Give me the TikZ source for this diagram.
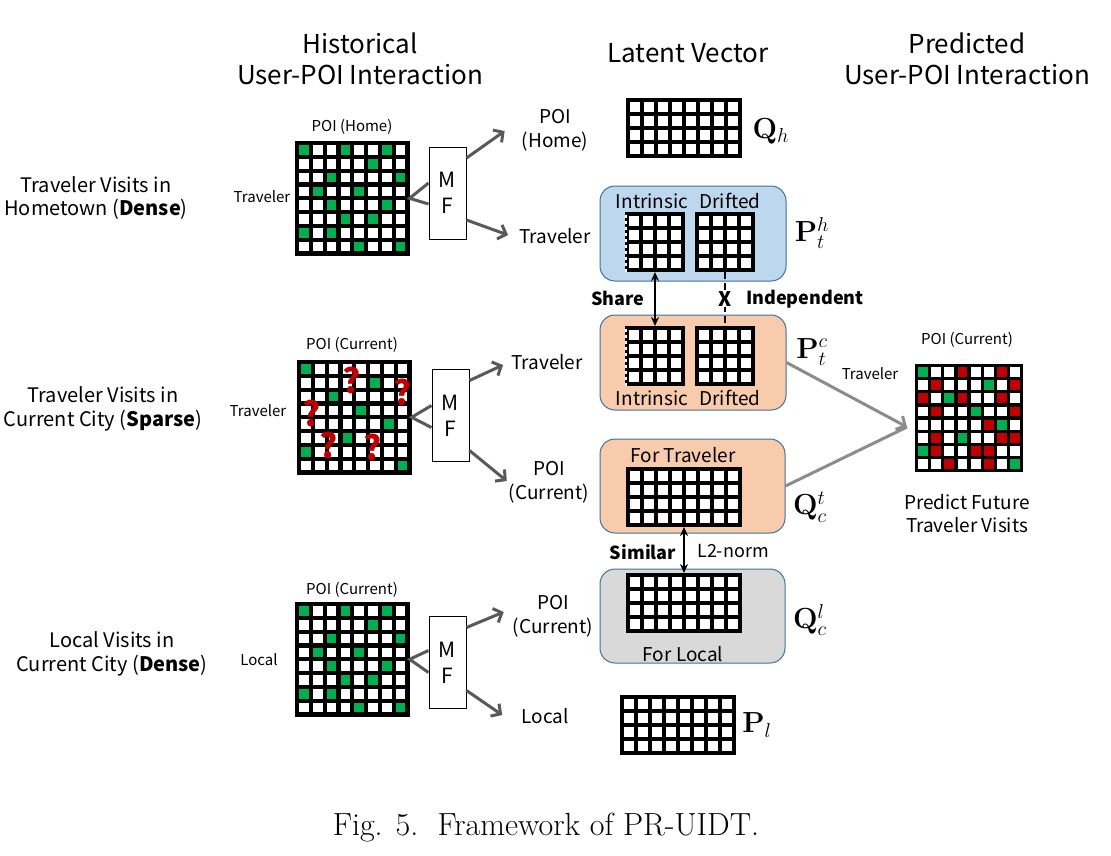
\documentclass[tikz,border=0pt]{standalone}
\usepackage[no-math]{fontspec}
\setmainfont{Noto Sans CJK KR}
\newfontfamily\capfont{Latin Modern Roman}
\usetikzlibrary{arrows.meta,calc}
\definecolor{mgreen}{HTML}{00B050}
\definecolor{mred}{HTML}{C00000}
\definecolor{bluefill}{HTML}{BDD7EE}
\definecolor{orfill}{HTML}{F8CBAD}
\definecolor{grfill}{HTML}{D9D9D9}
\definecolor{boxline}{HTML}{41719C}
\definecolor{arrgray}{HTML}{595959}
\definecolor{predgray}{HTML}{8C8C8C}
\newcommand{\gridmat}[6]{%
  \node[fill=black,inner sep=0,outer sep=0,draw=none,anchor=north west,minimum width={#3*#5+#6},minimum height={#4*#5+#6}] (#1) at #2 {};
  \foreach \ii in {1,...,#3}{\foreach \jj in {1,...,#4}{%
    \fill[white] ($(#1.north west)+({#6+(\ii-1)*#5},{#6+(\jj-1)*#5})$) rectangle ++({#5-#6},{#5-#6});}}%
}
\newcommand{\cellfill}[5]{%
  \foreach \cc/\rr in {#5}{\fill[#2] ($(#1.north west)+({#4+(\cc-1)*#3},{#4+(\rr-1)*#3})$) rectangle ++({#3-#4},{#3-#4});}%
}
\tikzset{
  hdr/.style={font=\fontsize{26}{31}\selectfont,align=center,inner sep=0},
  side/.style={font=\fontsize{20}{23.5}\selectfont,align=center,inner sep=0},
  small/.style={font=\fontsize{15}{18}\selectfont,inner sep=0},
  mid/.style={font=\fontsize{19}{24}\selectfont,align=center,inner sep=0},
  mfbox/.style={draw=black,line width=1,fill=white,minimum width=37,minimum height=92,inner sep=0,align=center,font=\fontsize{21}{26}\selectfont},
  fork/.style={draw=arrgray,line width=3},
  mfarrow/.style={draw=arrgray,line width=3,-{Straight Barb[length=7,width=15]}},
  predarrow/.style={draw=predgray,line width=3},
  rbox/.style={draw=boxline,line width=1,rounded corners=15,minimum width=186,minimum height=95,inner sep=0},
  mathlab/.style={font=\fontsize{20.74}{22}\selectfont,inner sep=0,scale=1.4,transform shape},
  qmark/.style={text=mred,font=\bfseries\fontsize{34}{36}\selectfont,inner sep=0},
  boldlab/.style={font=\bfseries\fontsize{18}{20}\selectfont,inner sep=0},
  dbl/.style={draw=black,line width=2,{Stealth[length=9,width=8]}-{Stealth[length=9,width=8]}}
}
\begin{document}
\begin{tikzpicture}[x=1pt,y=-1pt]
\useasboundingbox[fill=white] (0,0) rectangle (1111,855);
% headers
\node[hdr] (h1) at (360,59) {Historical\\User-POI Interaction};
\node[hdr] (h2) at (688,53) {Latent Vector};
\node[hdr] (h3) at (967,59) {Predicted\\User-POI Interaction};
% left labels
\node[side] (s1) at (96,198) {Traveler Visits in\\Hometown (\textbf{Dense})};
\node[side] (s2) at (103,409) {Traveler Visits in\\Current City (\textbf{Sparse})};
\node[side] (s3) at (112,654) {Local Visits in\\Current City (\textbf{Dense})};
% matrices left
\gridmat{m1}{(295,141)}{8}{8}{13.8}{4.2}
\cellfill{m1}{mgreen}{13.8}{4.2}{1/1,4/1,7/1,6/2,3/3,8/3,2/4,5/4,3/5,7/5,4/6,6/6,1/7,3/7,5/8,8/8}
\gridmat{m2}{(297,360)}{8}{8}{13.8}{4.2}
\cellfill{m2}{mgreen}{13.8}{4.2}{1/1,6/2,3/3,5/4,7/5,4/6,1/7,8/8}
\gridmat{m3}{(295,602)}{8}{8}{13.8}{4.2}
\cellfill{m3}{mgreen}{13.8}{4.2}{1/1,4/1,7/1,6/2,3/3,8/3,2/4,5/4,3/5,7/5,4/6,6/6,1/7,3/7,5/8,8/8}
\node[small] (t1) at (352,127) {POI (Home)};
\node[small] (t2) at (352,345) {POI (Current)};
\node[small] (t3) at (352,590) {POI (Current)};
\node[small] (r1) at (262,197) {Traveler};
\node[small] (r2) at (258,411) {Traveler};
\node[small] (r3) at (259,660) {Local};
% question marks
\node[qmark] (q1) at (352,380) {?};
\node[qmark] (q2) at (403,392) {?};
\node[qmark] (q3) at (312,413) {?};
\node[qmark] (q4) at (329,445) {?};
\node[qmark] (q5) at (373,447) {?};
% MF boxes
\node[mfbox] (MF1) at (447.5,193) {M\\F};
\node[mfbox] (MF2) at (450.5,415.5) {M\\F};
\node[mfbox] (MF3) at (447.5,662.5) {M\\F};
\draw[fork] ($(MF1.west)+(0,-10)$) -- (m1.east) -- ($(MF1.west)+(0,11)$);
\draw[fork] ($(MF2.west)+(0,-10)$) -- (m2.east) -- ($(MF2.west)+(0,12)$);
\draw[fork] ($(MF3.west)+(0,-12)$) -- (m3.east) -- ($(MF3.west)+(0,10)$);
% latent labels
\node[mid] (lPh) at (555,130) {POI\\(Home)};
\node[mid] (lTh) at (555,236) {Traveler};
\node[mid] (lTc) at (547,362) {Traveler};
\node[mid] (lPc) at (549,482) {POI\\(Current)};
\node[mid] (lPl) at (553,616) {POI\\(Current)};
\node[mid] (lLl) at (545,716) {Local};
\draw[mfarrow] ($(MF1.east)+(0,-35)$) -- ($(lPh.west)+(-17,1)$);
\draw[mfarrow] ($(MF1.east)+(0,27)$) -- ($(lTh.west)+(-11,-1)$);
\draw[mfarrow] ($(MF2.east)+(0,-35)$) -- ($(lTc.west)+(-8,3)$);
\draw[mfarrow] ($(MF2.east)+(0,35)$) -- ($(lPc.west)+(-2,-1)$);
\draw[mfarrow] ($(MF3.east)+(0,-35)$) -- ($(lPl.west)+(-9,-4)$);
\draw[mfarrow] ($(MF3.east)+(0,28)$) -- ($(lLl.west)+(-19,-1)$);
% rounded boxes
\node[rbox,fill=bluefill] (bPh) at (693,233.5) {};
\node[rbox,fill=orfill] (bPc) at (693,362.5) {};
\node[rbox,fill=orfill,minimum width=185,minimum height=94] (bQt) at (692.5,486) {};
\node[rbox,fill=grfill,minimum width=185,minimum height=94] (bQl) at (692.5,616) {};
% latent matrices
\gridmat{Qh}{(626,98)}{8}{4}{14}{4}
\gridmat{iT}{(625,212)}{4}{4}{14}{4}
\gridmat{dT}{(695,212)}{4}{4}{14}{4}
\gridmat{iB}{(625,326)}{4}{4}{14}{4}
\gridmat{dB}{(695,326)}{4}{4}{14}{4}
\gridmat{Qt}{(626,467)}{8}{4}{14}{4}
\gridmat{Ql}{(626,573)}{8}{4}{14}{4}
\gridmat{Pl}{(620,695)}{8}{4}{14}{4}
\draw[white,line width=2,dash pattern=on 3 off 3] ($(iT.north west)+(1,3)$) -- ($(iT.south west)+(1,0)$);
\draw[white,line width=2,dash pattern=on 3 off 3] ($(iB.north west)+(1,3)$) -- ($(iB.south west)+(1,0)$);
% texts in boxes
\node[mid] (x1) at (652,201) {Intrinsic};
\node[mid] (x2) at (730,201) {Drifted};
\node[mid] (x3) at (652,398) {Intrinsic};
\node[mid] (x4) at (730,398) {Drifted};
\node[mid] (x5) at (683,455) {For Traveler};
\node[mid] (x6) at (683,654) {For Local};
% math labels
\node[mathlab] (mQh) at (771,131) {$\mathbf{Q}_h$};
\node[mathlab] (mPth) at (812,233) {$\mathbf{P}_t^h$};
\node[mathlab] (mPtc) at (812,352) {$\mathbf{P}_t^c$};
\node[mathlab] (mQct) at (810,507) {$\mathbf{Q}_c^t$};
\node[mathlab] (mQcl) at (810,620) {$\mathbf{Q}_c^l$};
\node[mathlab] (mPl) at (757,725) {$\mathbf{P}_l$};
% share / independent / similar
\draw[dbl] (iT.south) -- (iB.north);
\node[boldlab] (sh) at (618,298) {Share};
\draw[black,line width=1.8,dash pattern=on 7 off 4] (dT.south) -- (dB.north);
\node[fill=white,inner sep=1,font=\bfseries\fontsize{20}{20}\selectfont] (xx) at ($(dT.south)!0.5!(dB.north)$) {X};
\node[boldlab] (ind) at (805,299) {Independent};
\draw[dbl] (Qt.south) -- (Ql.north);
\node[boldlab] (sim) at (643,552) {Similar};
\node[mid,font=\fontsize{18}{20}\selectfont] (l2) at (733,551) {L2-norm};
% predicted
\gridmat{pm}{(915,364)}{8}{8}{13.1}{3.2}
\cellfill{pm}{mgreen}{13.1}{3.2}{1/1,6/2,3/3,5/4,7/5,4/6,1/7,8/8}
\cellfill{pm}{mred}{13.1}{3.2}{4/1,7/1,2/2,8/2,1/3,4/3,7/3,2/4,8/4,6/5,2/6,7/6,8/6,2/7,5/7,6/7,3/8,6/8}
\node[small] (pt) at (967,340) {POI (Current)};
\node[small] (ptr) at (870,374) {Traveler};
\node[mid,font=\fontsize{19}{23}\selectfont] (pf) at (967,514) {Predict Future\\Traveler Visits};
\coordinate (tip) at ($(pm.west)+(-8,9)$);
\draw[predarrow] (bQt.east) -- (tip);
\draw[predarrow,-{Straight Barb[length=7,width=15]}] (bPc.east) -- (tip);
% caption
\node[inner sep=0,font=\capfont\fontsize{32}{34}\selectfont] (cap) at (546,828) {Fig. 5.\ \ Framework of PR-UIDT.};
\end{tikzpicture}
\end{document}
